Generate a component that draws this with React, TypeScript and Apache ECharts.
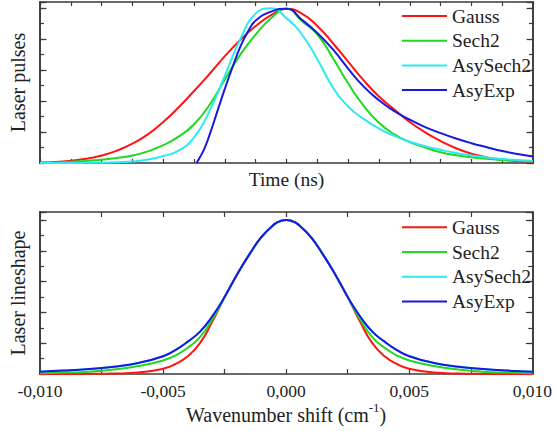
import React, { useEffect, useRef } from 'react';
import * as echarts from 'echarts';

// ---------- data ----------
const seriesNames = ['Gauss', 'Sech2', 'AsySech2', 'AsyExp'];

// Top panel: laser pulses vs time (arbitrary ns units, 16 tick intervals)
const pulseTime = [0, 0.5, 1, 1.5, 2, 2.5, 3, 3.5, 4, 4.5, 5, 5.5, 6, 6.5, 7, 7.5, 8, 8.5, 9, 9.5, 10, 10.5, 11, 11.5, 12, 12.5, 13, 13.5, 14, 14.5, 15, 15.5, 16];
const gaussPulse = [0.003, 0.007, 0.015, 0.027, 0.048, 0.08, 0.125, 0.185, 0.265, 0.36, 0.465, 0.575, 0.69, 0.795, 0.885, 0.955, 0.997, 0.965, 0.885, 0.775, 0.655, 0.535, 0.43, 0.345, 0.265, 0.198, 0.142, 0.095, 0.06, 0.036, 0.021, 0.013, 0.008];
const sech2Pulse = [0.002, 0.004, 0.008, 0.013, 0.021, 0.033, 0.048, 0.075, 0.115, 0.17, 0.25, 0.375, 0.54, 0.7, 0.83, 0.935, 0.997, 0.915, 0.83, 0.68, 0.515, 0.37, 0.26, 0.185, 0.135, 0.1, 0.07, 0.05, 0.037, 0.027, 0.019, 0.014, 0.01];
const asySech2Pulse = [0, 0, 0, 0.001, 0.002, 0.005, 0.01, 0.022, 0.045, 0.08, 0.165, 0.335, 0.565, 0.8, 0.965, 1.0, 0.935, 0.83, 0.67, 0.49, 0.365, 0.285, 0.222, 0.175, 0.138, 0.108, 0.085, 0.065, 0.049, 0.036, 0.026, 0.019, 0.014];
const asyExpTime = [5.08, 5.2, 5.35, 5.5, 5.75, 6, 6.25, 6.5, 6.75, 7, 7.5, 8, 8.5, 9, 9.5, 10, 10.5, 11, 11.5, 12, 12.5, 13, 13.5, 14, 14.5, 15, 15.5, 16];
const asyExpPulse = [0, 0.04, 0.1, 0.18, 0.33, 0.48, 0.62, 0.75, 0.85, 0.92, 0.978, 0.997, 0.925, 0.84, 0.735, 0.61, 0.495, 0.405, 0.335, 0.28, 0.232, 0.193, 0.158, 0.128, 0.102, 0.077, 0.058, 0.042];

// Bottom panel: laser lineshape vs wavenumber shift (cm-1)
const waveShift = [-0.01, -0.009, -0.008, -0.007, -0.006, -0.005, -0.0045, -0.004, -0.0035, -0.003, -0.0025, -0.002, -0.0015, -0.001, -0.0005, -0.00025, 0, 0.00025, 0.0005, 0.001, 0.0015, 0.002, 0.0025, 0.003, 0.0035, 0.004, 0.0045, 0.005, 0.006, 0.007, 0.008, 0.009, 0.01];
const gaussShape = [0, 0, 0.001, 0.003, 0.009, 0.034, 0.065, 0.115, 0.2, 0.34, 0.5, 0.645, 0.775, 0.89, 0.97, 0.992, 1.0, 0.992, 0.97, 0.89, 0.775, 0.645, 0.5, 0.34, 0.2, 0.115, 0.065, 0.034, 0.009, 0.003, 0.001, 0, 0];
const sech2Shape = [0.005, 0.009, 0.015, 0.029, 0.052, 0.088, 0.12, 0.17, 0.24, 0.355, 0.5, 0.645, 0.775, 0.89, 0.97, 0.992, 1.0, 0.992, 0.97, 0.89, 0.775, 0.645, 0.5, 0.355, 0.24, 0.17, 0.12, 0.088, 0.052, 0.029, 0.015, 0.009, 0.005];
const asySech2Shape = [0.015, 0.022, 0.032, 0.047, 0.072, 0.115, 0.155, 0.21, 0.275, 0.375, 0.5, 0.645, 0.775, 0.89, 0.97, 0.992, 1.0, 0.992, 0.97, 0.89, 0.775, 0.645, 0.5, 0.375, 0.275, 0.21, 0.155, 0.115, 0.072, 0.047, 0.032, 0.022, 0.015];
const asyExpShape = [0.015, 0.022, 0.032, 0.047, 0.072, 0.115, 0.155, 0.21, 0.275, 0.375, 0.5, 0.645, 0.775, 0.89, 0.97, 0.992, 1.0, 0.992, 0.97, 0.89, 0.775, 0.645, 0.5, 0.375, 0.275, 0.21, 0.155, 0.115, 0.072, 0.047, 0.032, 0.022, 0.015];

// ---------- styles ----------
const COLORS = ['#ff1414', '#1fd81f', '#2ee8f2', '#1818e0'];
const FONT = 'Liberation Serif';
const FRAME = '#3a3a3a';
const TEXT = '#222222';

const zip = (xs: number[], ys: number[]) => xs.map((x, i) => [x, ys[i]]);

function fmtWave(v: number): string {
  const k = Math.round(v * 10000);
  if (k % 50 !== 0) return '';
  if (k === 0) return '0,000';
  return v.toFixed(3).replace('.', ',');
}

function xAxis(grid: number, pos: 'top' | 'bottom', min: number, max: number, interval: number, tickLen: number, extra: any = {}) {
  return {
    type: 'value', gridIndex: grid, position: pos, min, max, interval,
    axisLine: { show: true, onZero: false, lineStyle: { color: FRAME, width: 1.6 } },
    axisTick: { show: true, inside: true, length: tickLen, lineStyle: { color: FRAME, width: 1.2 } },
    axisLabel: { show: false },
    splitLine: { show: false },
    ...extra,
  };
}

function yAxis(grid: number, pos: 'left' | 'right', max: number, interval: number, tickLen: number, extra: any = {}) {
  return {
    type: 'value', gridIndex: grid, position: pos, min: 0, max, interval,
    axisLine: { show: true, onZero: false, lineStyle: { color: FRAME, width: 1.6 } },
    axisTick: { show: true, inside: true, length: tickLen, lineStyle: { color: FRAME, width: 1.2 } },
    axisLabel: { show: false },
    splitLine: { show: false },
    ...extra,
  };
}

export default function App() {
  const ref = useRef<HTMLDivElement>(null);
  useEffect(() => {
    if (!ref.current) return;
    const chart = echarts.init(ref.current, undefined, { renderer: 'svg' });
    const topData = [zip(pulseTime, gaussPulse), zip(pulseTime, sech2Pulse), zip(pulseTime, asySech2Pulse), zip(asyExpTime, asyExpPulse)];
    const botData = [zip(waveShift, gaussShape), zip(waveShift, sech2Shape), zip(waveShift, asySech2Shape), zip(waveShift, asyExpShape)];
    const series: any[] = [];
    const lineCommon = { type: 'line', showSymbol: false, symbol: 'none', smooth: 0.5 };
    seriesNames.forEach((name, i) => {
      series.push({
        ...lineCommon, name, xAxisIndex: 0, yAxisIndex: 0, data: topData[i],
        color: COLORS[i], lineStyle: { width: 2, color: COLORS[i] }, z: 2 + i,
      });
    });
    seriesNames.forEach((name, i) => {
      series.push({
        ...lineCommon, name, xAxisIndex: 2, yAxisIndex: 4, data: botData[i],
        color: COLORS[i], lineStyle: { width: 2, color: COLORS[i] }, z: 2 + i,
      });
    });
    const legendBase = {
      data: seriesNames, orient: 'vertical', left: 402, padding: 0,
      itemWidth: 45, itemHeight: 2, itemGap: 4.7, icon: 'rect', selectedMode: false,
      textStyle: { fontFamily: FONT, fontSize: 19.5, color: TEXT, lineHeight: 20 },
    };
    const nameStyle = { fontFamily: FONT, fontSize: 20, color: TEXT };
    chart.setOption({
      animation: false,
      backgroundColor: '#ffffff',
      grid: [
        { left: 40, top: 2, width: 493, height: 161 },
        { left: 40, top: 212, width: 493, height: 162 },
      ],
      xAxis: [
        xAxis(0, 'bottom', 0, 16, 1, 4, { name: 'Time (ns)', nameLocation: 'middle', nameGap: 6, nameTextStyle: { ...nameStyle, fontSize: 19.5 } }),
        xAxis(0, 'top', 0, 16, 1, 4),
        xAxis(1, 'bottom', -0.01, 0.01, 0.0025, 5, {
          axisLabel: { show: true, formatter: fmtWave, fontFamily: FONT, fontSize: 17.5, color: TEXT, margin: 8 },
          name: '{a|Wavenumber shift (cm}{b|-1}{a|)}', nameLocation: 'middle', nameGap: 26,
          nameTextStyle: {
            rich: {
              a: { fontFamily: FONT, fontSize: 20, color: TEXT, lineHeight: 24, verticalAlign: 'bottom' },
              b: { fontFamily: FONT, fontSize: 13, color: TEXT, lineHeight: 13, verticalAlign: 'top' },
            },
          },
        }),
        xAxis(1, 'top', -0.01, 0.01, 0.0025, 5),
      ],
      yAxis: [
        yAxis(0, 'left', 1.04, 0.2, 6.5, { name: 'Laser pulses', nameLocation: 'middle', nameGap: 12, nameRotate: 90, nameTextStyle: nameStyle }),
        yAxis(0, 'left', 1.04, 0.1, 4),
        yAxis(0, 'right', 1.04, 0.2, 6.5),
        yAxis(0, 'right', 1.04, 0.1, 4),
        yAxis(1, 'left', 1.052, 0.2, 6.5, { name: 'Laser lineshape', nameLocation: 'middle', nameGap: 12, nameRotate: 90, nameTextStyle: nameStyle }),
        yAxis(1, 'left', 1.052, 0.1, 4),
        yAxis(1, 'right', 1.052, 0.2, 6.5),
        yAxis(1, 'right', 1.052, 0.1, 4),
      ],
      legend: [
        { ...legendBase, top: 6 },
        { ...legendBase, top: 217.3 },
      ],
      series,
    });
    return () => chart.dispose();
  }, []);
  return <div ref={ref} style={{ position: 'fixed', left: 0, top: 0, width: 555, height: 431 }} />;
}
